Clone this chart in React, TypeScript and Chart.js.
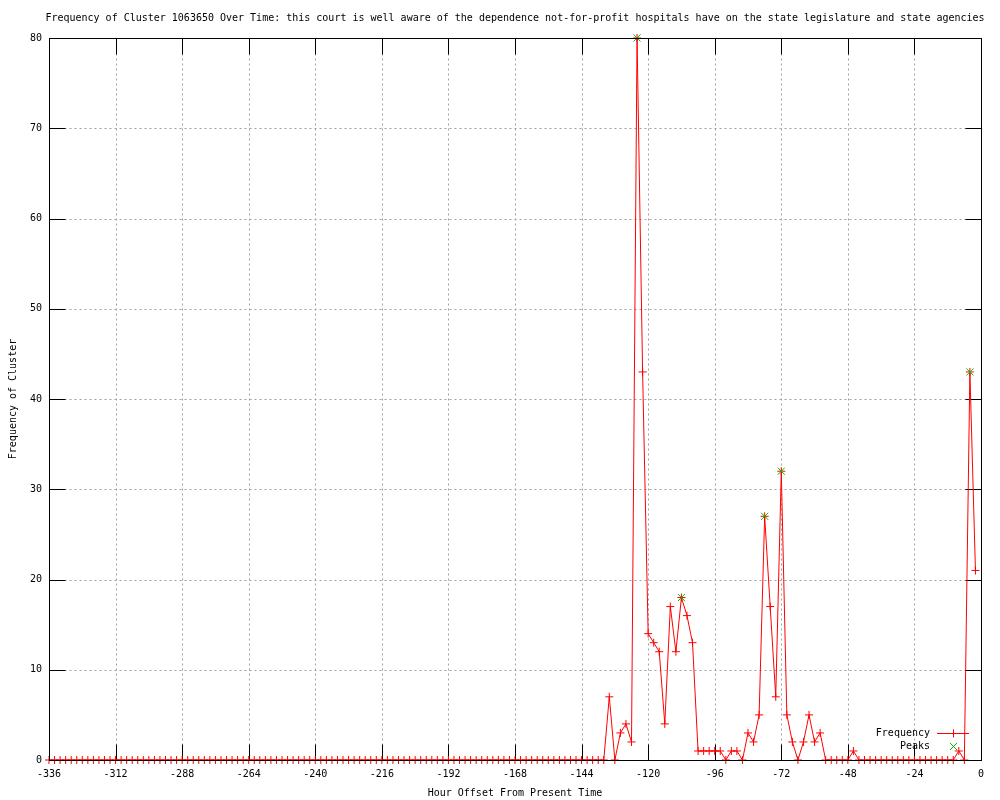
import { useEffect, useRef } from 'react';
import { Chart, registerables } from 'chart.js';

Chart.register(...registerables);

const TITLE =
  'Frequency of Cluster 1063650 Over Time: this court is well aware of the dependence not-for-profit hospitals have on the state legislature and state agencies';
const X_TITLE = 'Hour Offset From Present Time';
const Y_TITLE = 'Frequency of Cluster';
const SERIES_LABELS = ['Frequency', 'Peaks'];

// Frequency series sampled every 2 hours starting at -336
const START_HOUR = -336;
const HOUR_STEP = 2;
const FREQUENCY = [
  0, 0, 0, 0, 0, 0, 0, 0, 0, 0,
  0, 0, 0, 0, 0, 0, 0, 0, 0, 0,
  0, 0, 0, 0, 0, 0, 0, 0, 0, 0,
  0, 0, 0, 0, 0, 0, 0, 0, 0, 0,
  0, 0, 0, 0, 0, 0, 0, 0, 0, 0,
  0, 0, 0, 0, 0, 0, 0, 0, 0, 0,
  0, 0, 0, 0, 0, 0, 0, 0, 0, 0,
  0, 0, 0, 0, 0, 0, 0, 0, 0, 0,
  0, 0, 0, 0, 0, 0, 0, 0, 0, 0,
  0, 0, 0, 0, 0, 0, 0, 0, 0, 0,
  0,
  7, 0, 3, 4, 2,
  80, 43, 14, 13, 12,
  4, 17, 12, 18, 16,
  13, 1, 1, 1, 1,
  1, 0, 1, 1, 0,
  3, 2, 5, 27, 17,
  7, 32, 5, 2, 0,
  2, 5, 2, 3, 0,
  0, 0, 0, 0, 1,
  0, 0, 0, 0, 0, 0, 0, 0, 0,
  0, 0, 0, 0, 0, 0, 0, 0, 0,
  1, 0, 43, 21,
];

const PEAK_HOURS = [-124, -108, -78, -72, -4];
const PEAK_VALUES = [80, 18, 27, 32, 43];

const X_MIN = -336;
const X_MAX = 0;
const X_STEP = 24;
const Y_MIN = 0;
const Y_MAX = 80;
const Y_STEP = 10;

const RED = '#ff0000';
const GREEN = '#00c000';
const GRID_GRAY = '#a0a0a0';
const FONT_FAMILY = "'DejaVu Sans Mono', monospace";
const FONT = { family: FONT_FAMILY, size: 10 };
const TICK_LEN = 16;

const gnuplotFrame = {
  id: 'gnuplotFrame',
  beforeDatasetsDraw(chart: any) {
    const { ctx, chartArea: a, scales } = chart;
    const xs = scales.x;
    const ys = scales.y;
    const L = Math.round(a.left) + 0.5;
    const R = Math.round(a.right) + 0.5;
    const T = Math.round(a.top) + 0.5;
    const B = Math.round(a.bottom) + 0.5;
    ctx.save();
    ctx.lineWidth = 1;
    // dotted grid
    ctx.strokeStyle = GRID_GRAY;
    ctx.setLineDash([2, 3]);
    ctx.beginPath();
    for (const t of xs.ticks) {
      const px = Math.round(xs.getPixelForValue(t.value)) + 0.5;
      if (px <= L + 1 || px >= R - 1) continue;
      ctx.moveTo(px, T);
      ctx.lineTo(px, B);
    }
    for (const t of ys.ticks) {
      const py = Math.round(ys.getPixelForValue(t.value)) + 0.5;
      if (py <= T + 1 || py >= B - 1) continue;
      ctx.moveTo(L, py);
      ctx.lineTo(R, py);
    }
    ctx.stroke();
    ctx.setLineDash([]);
    // inward tick marks on all four sides
    ctx.strokeStyle = '#000';
    ctx.beginPath();
    for (const t of xs.ticks) {
      const px = Math.round(xs.getPixelForValue(t.value)) + 0.5;
      ctx.moveTo(px, B);
      ctx.lineTo(px, B - TICK_LEN);
      ctx.moveTo(px, T);
      ctx.lineTo(px, T + TICK_LEN);
    }
    for (const t of ys.ticks) {
      const py = Math.round(ys.getPixelForValue(t.value)) + 0.5;
      ctx.moveTo(L, py);
      ctx.lineTo(L + TICK_LEN, py);
      ctx.moveTo(R, py);
      ctx.lineTo(R - TICK_LEN, py);
    }
    ctx.stroke();
    ctx.restore();
  },
  afterDatasetsDraw(chart: any) {
    const { ctx, chartArea: a } = chart;
    const L = Math.round(a.left) + 0.5;
    const R = Math.round(a.right) + 0.5;
    const T = Math.round(a.top) + 0.5;
    const B = Math.round(a.bottom) + 0.5;
    ctx.save();
    ctx.lineWidth = 1;
    ctx.strokeStyle = '#000';
    ctx.strokeRect(L, T, R - L, B - T);

    // title
    ctx.fillStyle = '#000';
    ctx.font = `10px ${FONT_FAMILY}`;
    ctx.textAlign = 'center';
    ctx.textBaseline = 'middle';
    ctx.fillText(TITLE, (a.left + a.right) / 2, 18);

    // legend (gnuplot style, bottom right inside the plot)
    const right = Math.round(a.right);
    const bottom = Math.round(a.bottom);
    const textRight = right - 51;
    const y1 = bottom - 27 + 0.5;
    const y2 = bottom - 14 + 0.5;
    const sx1 = right - 44;
    const sx2 = right - 12;
    const sc = right - 28 + 0.5;
    ctx.textAlign = 'right';
    ctx.fillText(SERIES_LABELS[0], textRight, y1);
    ctx.fillText(SERIES_LABELS[1], textRight, y2);
    ctx.strokeStyle = RED;
    ctx.beginPath();
    ctx.moveTo(sx1, y1);
    ctx.lineTo(sx2, y1);
    ctx.moveTo(sc, y1 - 4);
    ctx.lineTo(sc, y1 + 4);
    ctx.stroke();
    ctx.strokeStyle = GREEN;
    ctx.beginPath();
    ctx.moveTo(sc - 3.5, y2 - 3.5);
    ctx.lineTo(sc + 3.5, y2 + 3.5);
    ctx.moveTo(sc + 3.5, y2 - 3.5);
    ctx.lineTo(sc - 3.5, y2 + 3.5);
    ctx.stroke();
    ctx.restore();
  },
};

export default function App() {
  const ref = useRef<HTMLCanvasElement>(null);
  useEffect(() => {
    const freqPoints = FREQUENCY.map((v, i) => ({ x: START_HOUR + i * HOUR_STEP, y: v }));
    const peakPoints = PEAK_HOURS.map((h, i) => ({ x: h, y: PEAK_VALUES[i] }));
    const chart = new Chart(ref.current as HTMLCanvasElement, {
      type: 'line',
      data: {
        datasets: [
          {
            label: SERIES_LABELS[1],
            data: peakPoints,
            showLine: false,
            pointStyle: 'crossRot',
            pointRadius: 5,
            pointBorderColor: GREEN,
            pointBackgroundColor: GREEN,
            pointBorderWidth: 1,
            borderColor: GREEN,
            order: 0,
            clip: false,
          } as any,
          {
            label: SERIES_LABELS[0],
            data: freqPoints,
            borderColor: RED,
            borderWidth: 1,
            pointStyle: 'cross',
            pointRadius: 4,
            pointBorderColor: RED,
            pointBackgroundColor: RED,
            pointBorderWidth: 1,
            tension: 0,
            order: 1,
            clip: false,
          } as any,
        ],
      },
      options: {
        animation: false,
        responsive: false,
        events: [],
        layout: { padding: { top: 38, right: 19, left: 0, bottom: 0 } },
        plugins: {
          legend: { display: false },
          title: { display: false },
          tooltip: { enabled: false },
        },
        scales: {
          x: {
            type: 'linear',
            min: X_MIN,
            max: X_MAX,
            afterFit: (s: any) => {
              s.height = 40;
            },
            grid: { display: false, drawTicks: false },
            border: { display: false },
            ticks: {
              stepSize: X_STEP,
              padding: 8,
              color: '#000',
              font: FONT,
              maxRotation: 0,
              autoSkip: false,
            },
            title: {
              display: true,
              text: X_TITLE,
              color: '#000',
              font: FONT,
              padding: { top: 0, bottom: 1 },
            },
          },
          y: {
            type: 'linear',
            min: Y_MIN,
            max: Y_MAX,
            afterFit: (s: any) => {
              s.width = 49;
            },
            grid: { display: false, drawTicks: false },
            border: { display: false },
            ticks: {
              stepSize: Y_STEP,
              padding: 7,
              color: '#000',
              font: FONT,
            },
            title: {
              display: true,
              text: Y_TITLE,
              color: '#000',
              font: FONT,
              padding: { top: 7, bottom: 0 },
            },
          },
        },
      } as any,
      plugins: [gnuplotFrame],
    });
    return () => chart.destroy();
  }, []);
  return (
    <div style={{ position: 'fixed', left: 0, top: 0, width: 1000, height: 800, background: '#fff' }}>
      <canvas ref={ref} width={1000} height={800} style={{ display: 'block', width: 1000, height: 800 }} />
    </div>
  );
}
